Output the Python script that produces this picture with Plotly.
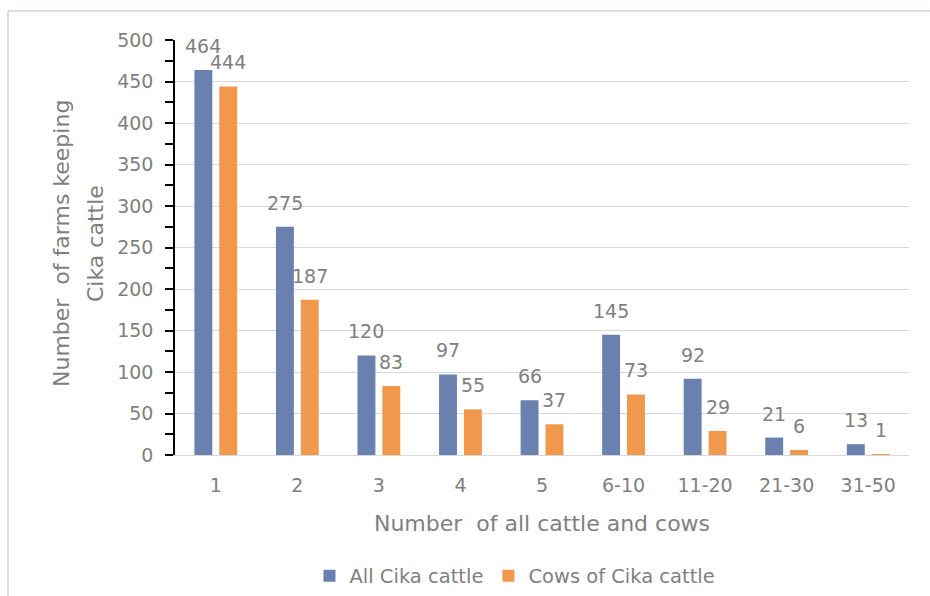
import plotly.graph_objects as go

# Herd-size classes on the category axis
herd_sizes = ["1", "2", "3", "4", "5", "6-10", "11-20", "21-30", "31-50"]

# Number of farms per herd-size class
all_cattle = [464, 275, 120, 97, 66, 145, 92, 21, 13]
cows = [444, 187, 83, 55, 37, 73, 29, 6, 1]

series_names = ["All Cika cattle", "Cows of Cika cattle"]
y_ticks = [0, 50, 100, 150, 200, 250, 300, 350, 400, 450, 500]

FONT = "DejaVu Sans, sans-serif"
TXT = "#7f7f7f"
BLUE = "#6a80ae"
ORANGE = "#f0984c"

W, H = 930, 596
L, R, T, B = 175, 21, 40, 141
pw, ph = W - L - R, H - T - B
BARGAP, GROUPGAP = 0.39, 0.28


def px_x(x):
    return (x - L) / pw


def px_y(y):
    return (H - B - y) / ph


fig = go.Figure()
for name, vals, col in [(series_names[0], all_cattle, BLUE),
                        (series_names[1], cows, ORANGE)]:
    fig.add_trace(go.Bar(
        x=herd_sizes, y=vals, name=name,
        marker=dict(color=col, line=dict(width=0)),
        cliponaxis=False,
    ))

# value labels, placed above each bar of the pair (x given as category index)
slot = pw / len(herd_sizes) * (1 - BARGAP) / 2
labels = []
for vals, shift in [(all_cattle, -slot / 2), (cows, slot / 2)]:
    for i, v in enumerate(vals):
        labels.append(dict(
            x=i, y=v, xref="x", yref="y", text=str(v), showarrow=False,
            xanchor="center", yanchor="middle", xshift=shift, yshift=24,
            font=dict(family=FONT, size=19, color=TXT),
        ))

fig.update_layout(
    width=W, height=H,
    margin=dict(l=L, r=R, t=T, b=B, pad=0, autoexpand=False),
    paper_bgcolor="white", plot_bgcolor="white",
    barmode="group", bargap=BARGAP, bargroupgap=GROUPGAP,
    font=dict(family=FONT, size=19, color=TXT),
    showlegend=True,
    legend=dict(orientation="h", x=px_x(515), xanchor="center",
                y=px_y(576), yanchor="middle",
                font=dict(family=FONT, size=19.5, color=TXT)),
    xaxis=dict(
        type="category", showgrid=False, zeroline=False, automargin=False,
        showline=True, linecolor="#d9d9d9", linewidth=1,
        ticks="outside", ticklen=13, tickcolor="rgba(0,0,0,0)",
        tickfont=dict(family=FONT, size=19, color=TXT),
        title=dict(text="Number&nbsp; of all cattle and cows",
                   font=dict(family=FONT, size=22, color=TXT), standoff=20),
    ),
    yaxis=dict(
        range=[0, 500], tickvals=y_ticks, automargin=False,
        showgrid=True, gridcolor="#d9d9d9", gridwidth=1,
        zeroline=False, showline=True, linecolor="black", linewidth=1.5,
        ticks="outside", ticklen=8, tickcolor="black", tickwidth=1.5,
        minor=dict(dtick=25, ticks="outside", ticklen=8,
                   tickcolor="black", tickwidth=1.5, showgrid=False),
        tickfont=dict(family=FONT, size=19, color=TXT),
        ticklabelstandoff=8,
    ),
    annotations=labels + [
        dict(text="Number&nbsp; of farms keeping", textangle=-90,
             xref="paper", yref="paper", x=px_x(62), y=px_y(244),
             xanchor="center", yanchor="middle", showarrow=False,
             font=dict(family=FONT, size=22, color=TXT)),
        dict(text="Cika cattle", textangle=-90,
             xref="paper", yref="paper", x=px_x(96), y=px_y(244),
             xanchor="center", yanchor="middle", showarrow=False,
             font=dict(family=FONT, size=22, color=TXT)),
    ],
    shapes=[
        dict(type="line", xref="paper", yref="paper",
             x0=px_x(8), x1=px_x(930), y0=px_y(11), y1=px_y(11),
             line=dict(color="#e3dede", width=2)),
        dict(type="line", xref="paper", yref="paper",
             x0=px_x(8), x1=px_x(8), y0=px_y(11), y1=px_y(596),
             line=dict(color="#e3dede", width=2)),
    ],
)

fig.write_html("out.html")
